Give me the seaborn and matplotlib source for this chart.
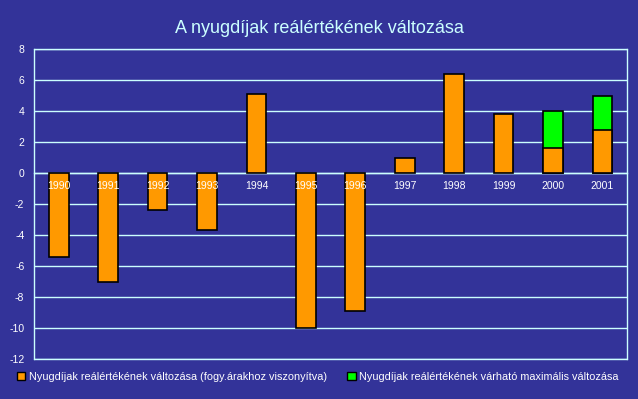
import pandas as pd
import matplotlib.pyplot as plt
from matplotlib.patches import Patch
import seaborn as sns

# Adatok
evek = ['1990', '1991', '1992', '1993', '1994', '1995', '1996', '1997', '1998', '1999', '2000', '2001']
valtozas = [-5.4, -7.0, -2.4, -3.7, 5.1, -10.0, -8.9, 1.0, 6.4, 3.8, 1.6, 2.8]
varhato_max = [None, None, None, None, None, None, None, None, None, None, 4.0, 5.0]
y_ticks = [-12, -10, -8, -6, -4, -2, 0, 2, 4, 6, 8]

cim = 'A nyugdíjak reálértékének változása'
cimke_1 = 'Nyugdíjak reálértékének változása (fogy.árakhoz viszonyítva)'
cimke_2 = 'Nyugdíjak reálértékének várható maximális változása'

hatter = '#333399'
vonal = '#ccffff'
narancs = '#ff9900'
zold = '#00ff00'

df = pd.DataFrame({'ev': evek, 'valtozas': valtozas, 'max': varhato_max})
df['max'] = df['max'].astype(float)

sns.set_style('white')
plt.rcParams['font.family'] = ['Liberation Sans', 'DejaVu Sans']

fig = plt.figure(figsize=(6.38, 3.99), dpi=100, facecolor=hatter)
ax = fig.add_axes([0.0533, 0.1003, 0.9297, 0.7767])
ax.set_facecolor(hatter)

# várható maximum (zöld) alul, a tényleges változás (narancs) rajta
sns.barplot(data=df, x='ev', y='max', order=evek, color=zold, saturation=1,
            width=0.4, edgecolor='black', linewidth=1.2, ax=ax, zorder=3)
sns.barplot(data=df, x='ev', y='valtozas', order=evek, color=narancs, saturation=1,
            width=0.4, edgecolor='black', linewidth=1.2, ax=ax, zorder=4)

ax.set_xlim(-0.5, len(evek) - 0.5)
ax.set_ylim(-12, 8)
ax.set_yticks(y_ticks)
ax.set_yticklabels([str(v) for v in y_ticks], color='white', fontsize=7.5)
ax.yaxis.grid(True, color=vonal, linewidth=1)
ax.set_axisbelow(True)
ax.tick_params(axis='y', direction='out', length=3, color=vonal, pad=4)
ax.axhline(y_ticks[0], color=vonal, linewidth=1, clip_on=False, zorder=1)
ax.axhline(y_ticks[-1], color=vonal, linewidth=1, clip_on=False, zorder=1)

# x tengely a nullánál, osztásjelek a kategóriák között
ax.spines['bottom'].set_position(('data', 0))
ax.set_xticks([i + 0.5 for i in range(len(evek) - 1)])
ax.set_xticklabels([])
ax.tick_params(axis='x', direction='out', length=3, color=vonal, width=1)
for sp in ax.spines.values():
    sp.set_color(vonal)
    sp.set_linewidth(1)
ax.spines['top'].set_visible(False)

for i, ev in enumerate(evek):
    ax.text(i, -0.85, ev, ha='center', va='center', color='white', fontsize=7.5, zorder=6)

ax.set_xlabel('')
ax.set_ylabel('')

fig.text(0.5, 0.928, cim, ha='center', va='center', color=vonal, fontsize=13)

kezelok = [Patch(facecolor=narancs, edgecolor='black', label=cimke_1),
           Patch(facecolor=zold, edgecolor='black', label=cimke_2)]
leg = fig.legend(handles=kezelok, loc='center', bbox_to_anchor=(0.498, 0.055), ncol=2,
                 frameon=False, fontsize=7.8, handlelength=0.8, handleheight=0.8,
                 handletextpad=0.3, columnspacing=1.9)
for t in leg.get_texts():
    t.set_color('white')

fig.savefig('out.png', dpi=100, facecolor=hatter)
